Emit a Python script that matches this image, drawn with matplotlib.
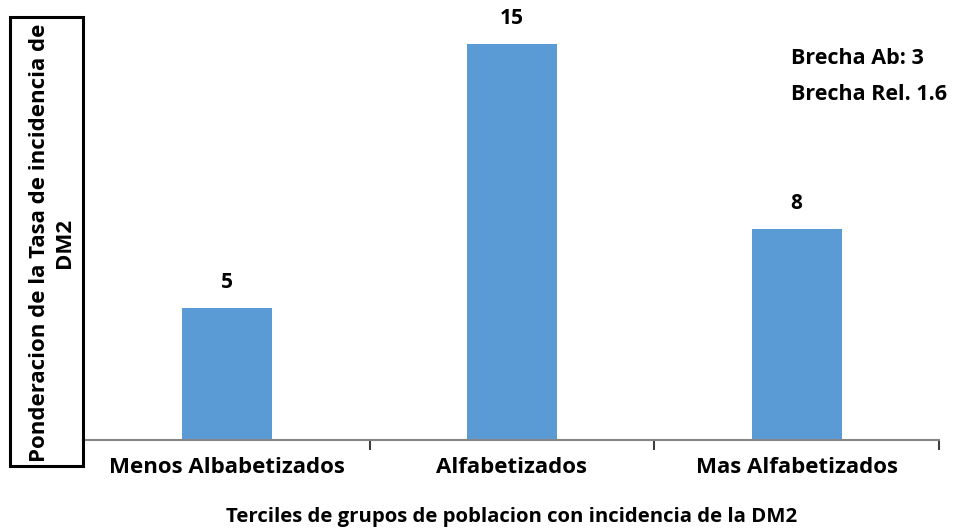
import matplotlib
matplotlib.use("Agg")
import matplotlib.pyplot as plt
from matplotlib.patches import Rectangle

categories = ["Menos Albabetizados", "Alfabetizados", "Mas Alfabetizados"]
values = [5, 15, 8]
ylabel = "Ponderacion de la Tasa de incidencia de\nDM2"
xlabel = "Terciles de grupos de poblacion con incidencia de la DM2"
notes = ["Brecha Ab: 3", "Brecha Rel. 1.6"]

plt.rcParams['font.family'] = ['Open Sans', 'DejaVu Sans']

W, H = 974, 531
fig = plt.figure(figsize=(W/100, H/100), dpi=100)
L, R, B = 85, 939, 440
unit = 26.4
ymax = 16
top = B - ymax*unit
ax = fig.add_axes([L/W, (H-B)/H, (R-L)/W, (B-top)/H])

x = range(len(categories))
bars = ax.bar(x, values, width=0.316, color="#5B9BD5", zorder=2)
ax.set_xlim(-0.5, len(categories)-0.5)
ax.set_ylim(0, ymax)
for s in ["top", "right", "left"]:
    ax.spines[s].set_visible(False)
ax.spines["bottom"].set_color("#868686")
ax.spines["bottom"].set_linewidth(1.5)
ax.set_yticks([])
ax.set_xticks([i + 0.5 for i in range(0, len(categories))], minor=False)
ax.set_xticklabels([])
ax.tick_params(axis="x", length=7, width=1.5, color="#404040", direction="out")
ax.set_xticks(list(x), minor=True)
ax.set_xticklabels(categories, minor=True, fontsize=16, fontweight="bold")
ax.tick_params(axis="x", which="minor", length=0, pad=12)

for xi, v in zip(x, values):
    ax.annotate(str(v), (xi, v), xytext=(0, 25), textcoords="offset pixels",
                ha="center", va="center", fontsize=15, fontweight="bold")

fig.text(512/W, 1-517/H, xlabel, ha="center", va="center", fontsize=14.7, fontweight="bold")

# y label box
fig.patches.append(Rectangle((10/W, 1-466/H), (83-10)/W, (466-17)/H,
                             transform=fig.transFigure, fill=False,
                             edgecolor="black", linewidth=2.2))
fig.text(52/W, 1-243/H, ylabel, rotation=90, ha="center", va="center",
         fontsize=16, fontweight="bold", linespacing=1.25, multialignment="center")

fig.text(791/W, 1-59/H, notes[0], ha="left", va="center", fontsize=15.5, fontweight="bold")
fig.text(791/W, 1-94/H, notes[1], ha="left", va="center", fontsize=15.5, fontweight="bold")

fig.savefig("out.png", dpi=100)
